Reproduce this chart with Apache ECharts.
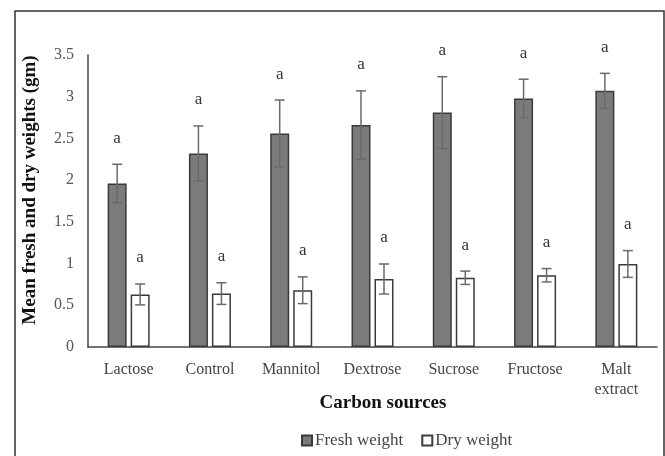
<!DOCTYPE html>
<html>
<head>
<meta charset="utf-8">
<script src="https://cdn.jsdelivr.net/npm/echarts@6/dist/echarts.min.js"></script>
<style>
html,body{margin:0;padding:0;background:#fff}
#divChart{width:665px;height:456px}
</style>
</head>
<body>
<div id="divChart"></div>
<script>
// data
var categories = ['Lactose','Control','Mannitol','Dextrose','Sucrose','Fructose','Malt\nextract']
var fresh_v = [1.96, 2.32, 2.56, 2.66, 2.81, 2.98, 3.07]
var fresh_err = [0.23, 0.33, 0.40, 0.41, 0.43, 0.23, 0.21]
var dry_v = [0.63, 0.64, 0.68, 0.815, 0.83, 0.86, 0.995]
var dry_err = [0.125, 0.13, 0.16, 0.18, 0.08, 0.08, 0.16]
var fresh_sig = ['a','a','a','a','a','a','a']
var dry_sig = ['a','a','a','a','a','a','a']
var y_ticks = [0, 0.5, 1, 1.5, 2, 2.5, 3, 3.5]

var FONT = '"Liberation Serif", "Times New Roman", serif'
var BAR_W = 19, BAR_GAP = 4

// error bar + letter drawn via custom series, shifted to sit on its bar
var err_series = (name, vals, errs, sigs, side)=>({
  type: 'custom',
  name: name + '_err',
  silent: true,
  z: 5,
  data: vals.map((v,i)=>[i, v, errs[i]]),
  renderItem: (params, api)=>{
    var i = api.value(0), v = api.value(1), e = api.value(2)
    var sig = sigs[params.dataIndex]
    var dx = side * (BAR_W + BAR_GAP) / 2
    var pTop = api.coord([i, v + e]), pBot = api.coord([i, v - e])
    var x = pTop[0] + dx, cap = 5
    var st = {stroke: '#6a6a6a', lineWidth: 1.5}
    return {type: 'group', children: [
      {type: 'line', shape: {x1: x, y1: pTop[1], x2: x, y2: pBot[1]}, style: st},
      {type: 'line', shape: {x1: x-cap, y1: pTop[1], x2: x+cap, y2: pTop[1]}, style: st},
      {type: 'line', shape: {x1: x-cap, y1: pBot[1], x2: x+cap, y2: pBot[1]}, style: st},
      {type: 'text', x: x, y: pTop[1] - 26, style: {text: sig, align: 'center', verticalAlign: 'middle',
        font: '17px ' + FONT, fill: '#333'}}
    ]}
  }
})

var opt_o = {
  animation: false,
  backgroundColor: '#fff',
  textStyle: {fontFamily: FONT},
  grid: {left: 88, right: 8, top: 55, bottom: 109, containLabel: false},
  legend: {
    data: ['Fresh weight', 'Dry weight'],
    left: 296, top: 427,
    icon: 'rect',
    itemWidth: 10, itemHeight: 10, itemGap: 18,
    textStyle: {fontFamily: FONT, fontSize: 17, color: '#444', padding: [0,0,0,-2]}
  },
  xAxis: {
    type: 'category',
    data: categories,
    axisLine: {lineStyle: {color: '#444', width: 1.5}},
    axisTick: {show: false},
    axisLabel: {fontFamily: FONT, fontSize: 16, color: '#444', margin: 13, lineHeight: 20, interval: 0}
  },
  yAxis: {
    type: 'value',
    min: 0, max: 3.5, interval: 0.5,
    axisLine: {show: true, lineStyle: {color: '#444', width: 1.5}},
    axisTick: {show: false},
    splitLine: {show: false},
    axisLabel: {fontFamily: FONT, fontSize: 16, color: '#555', margin: 14,
      formatter: v=>y_ticks.indexOf(v)>=0 ? String(v) : ''}
  },
  series: [
    {name: 'Fresh weight', type: 'bar', data: fresh_v, barWidth: BAR_W, barGap: (BAR_GAP/BAR_W*100)+'%',
      itemStyle: {color: '#7b7b7b', borderColor: '#3a3a3a', borderWidth: 1.5}},
    {name: 'Dry weight', type: 'bar', data: dry_v, barWidth: BAR_W,
      itemStyle: {color: '#fff', borderColor: '#3a3a3a', borderWidth: 1.5}},
    err_series('Fresh weight', fresh_v, fresh_err, fresh_sig, -1),
    err_series('Dry weight', dry_v, dry_err, dry_sig, 1)
  ],
  graphic: [
    {type: 'rect', shape: {x: 15, y: 11, width: 649, height: 470}, silent: true,
      style: {fill: 'none', stroke: '#333', lineWidth: 1.5}},
    {type: 'text', x: 30, y: 190, rotation: Math.PI/2, silent: true,
      style: {text: 'Mean fresh and dry weights (gm)', align: 'center', verticalAlign: 'middle',
        font: 'bold 19px ' + FONT, fill: '#111'}},
    {type: 'text', x: 383, y: 403, silent: true,
      style: {text: 'Carbon sources', align: 'center', verticalAlign: 'middle',
        font: 'bold 19px ' + FONT, fill: '#111'}}
  ]
}

var chart = echarts.init(document.getElementById('divChart'))
chart.setOption(opt_o, true)
</script>
</body>
</html>
